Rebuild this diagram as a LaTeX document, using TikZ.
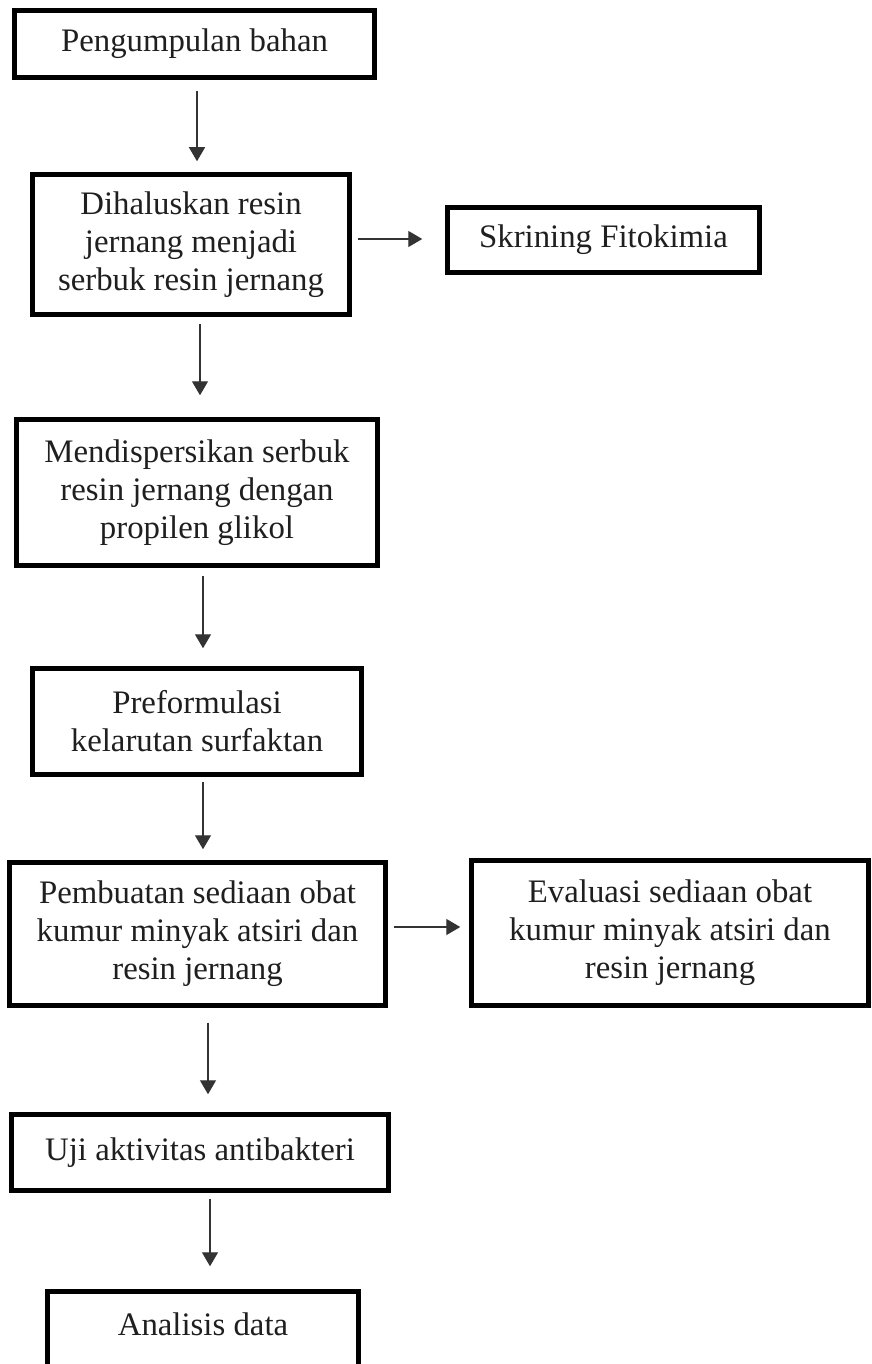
\documentclass[tikz,border=0pt]{standalone}
\usepackage{fontspec}
\setmainfont{Liberation Serif}
\usetikzlibrary{arrows.meta,calc}
\begin{document}
\begin{tikzpicture}[x=1pt,y=-1pt,
  box/.style={draw=black, line width=5.5pt, align=center, inner sep=0pt,
    font=\fontsize{32.8}{38}\selectfont, text=black!88},
  arr/.style={line width=1.4pt, draw=black!80, -{Triangle[width=16pt,length=14pt]}}]
\useasboundingbox[fill=white] (0,0) rectangle (871,1364);

\node[box, minimum width=360pt, minimum height=67pt] (n1) at (194.5,44) {Pengumpulan bahan};
\node[box, minimum width=317pt, minimum height=140pt] (n2) at (191,244.5) {Dihaluskan resin\\jernang menjadi\\serbuk resin jernang};
\node[box, minimum width=312pt, minimum height=65pt] (skr) at (603.5,240) {Skrining Fitokimia};
\node[box, minimum width=361pt, minimum height=146pt] (n3) at (197,492.5) {Mendispersikan serbuk\\resin jernang dengan\\propilen glikol};
\node[box, minimum width=329pt, minimum height=106pt] (n4) at (197,721.5) {Preformulasi\\kelarutan surfaktan};
\node[box, minimum width=376pt, minimum height=143pt] (n5) at (197.5,934) {Pembuatan sediaan obat\\kumur minyak atsiri dan\\resin jernang};
\node[box, minimum width=397pt, minimum height=145pt] (ev) at (670,933) {Evaluasi sediaan obat\\kumur minyak atsiri dan\\resin jernang};
\node[box, minimum width=377pt, minimum height=76pt] (uj) at (200,1152.5) {Uji aktivitas antibakteri};
\node[box, minimum width=311pt, text height=43.5pt, text depth=110pt, anchor=base] (an) at (203,1335) {Analisis data};

\draw[arr] ($(n1.south)+(2.5,10.5)$) -- ($(n1.south |- n2.north)+(2.5,-10.5)$);
\draw[arr] ($(n2.east)+(5.5,-5.5)$) -- ($(skr.west |- n2.east)+(-22.5,-5.5)$);
\draw[arr] ($(n2.south)+(9,6.5)$) -- ($(n2.south |- n3.north)+(9,-21.5)$);
\draw[arr] ($(n3.south)+(6,7.5)$) -- ($(n3.south |- n4.north)+(6,-17.5)$);
\draw[arr] ($(n4.south)+(6,4.5)$) -- ($(n4.south |- n5.north)+(6,-10.5)$);
\draw[arr] ($(n5.east)+(5.5,-7)$) -- ($(ev.west |- n5.east)+(-8.5,-7)$);
\draw[arr] ($(n5.south)+(10.5,14.5)$) -- ($(n5.south |- uj.north)+(10.5,-17.5)$);
\draw[arr] ($(uj.south)+(10,5.5)$) -- ($(uj.south |- an.north)+(10,-22.5)$);
\end{tikzpicture}
\end{document}
